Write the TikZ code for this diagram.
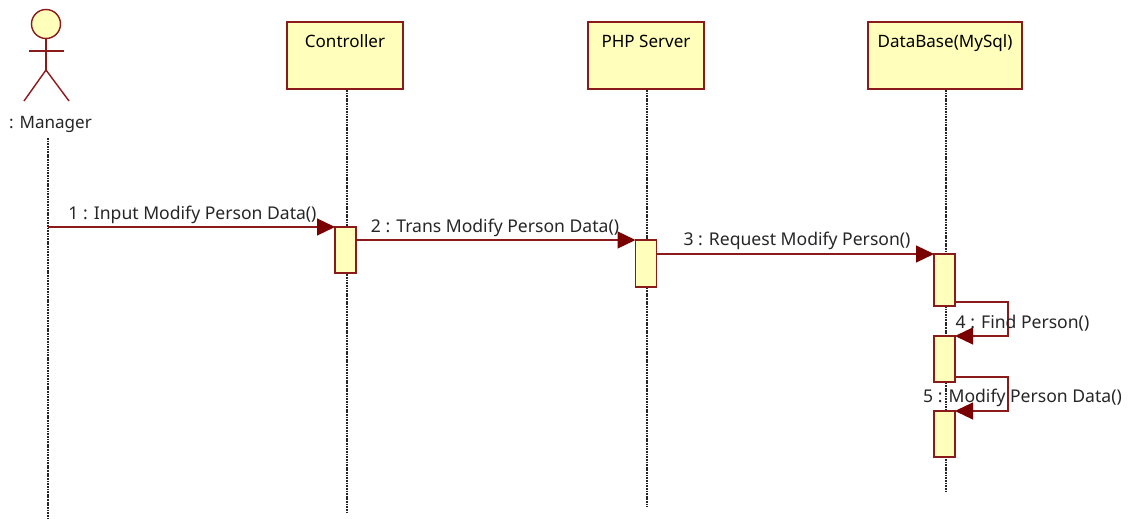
\documentclass[tikz,border=0pt]{standalone}
\usepackage{fontspec}
\setmainfont{Noto Sans}
\usetikzlibrary{arrows.meta}
\definecolor{umlline}{HTML}{8B1A1A}
\definecolor{umlhead}{HTML}{7A0000}
\definecolor{umlfill}{HTML}{FFFFBB}
\tikzset{
    objbox/.style={draw=umlline, fill=umlfill, line width=1pt, inner sep=0pt, minimum height=1.34cm, text height=0.52cm, text depth=0.82cm, font=\fontsize{9.7}{11}\selectfont},
    actbox/.style={draw=umlline, fill=umlfill, line width=1pt, inner sep=0pt, outer sep=0pt, minimum width=0.42cm},
    lifeline/.style={dash pattern=on 1pt off 0.5pt, line width=0.9pt, black!85},
    msg/.style={draw=umlline, line width=0.7pt, -{Triangle[length=0.36cm, width=0.34cm, color=umlhead]}},
    msgtext/.style={inner sep=0pt, text=black!85, font=\fontsize{10}{11}\selectfont},
    stick/.style={draw=umlline, line width=0.8pt}
}
\begin{document}
\begin{tikzpicture}
    \useasboundingbox (0, 0) rectangle (22.72, 10.36);
    % objects
    \node[objbox, minimum width=2.32cm] (controller) at (6.9, 9.25) {Controller};
    \node[objbox, minimum width=2.32cm] (phpserver) at (12.92, 9.25) {PHP Server};
    \node[objbox, minimum width=3.08cm] (database) at (18.9, 9.25) {DataBase(MySql)};
    % actor
    \node[stick, circle, fill=umlfill, minimum size=0.58cm, inner sep=0pt] (head) at (0.92, 9.88) {};
    \coordinate (hip) at (0.92, 8.96);
    \coordinate (armleft) at (0.58, 9.34);
    \coordinate (armright) at (1.28, 9.34);
    \coordinate (footleft) at (0.48, 8.34);
    \coordinate (footright) at (1.38, 8.34);
    \draw[stick] (head) to (hip);
    \draw[stick] (armleft) to (armright);
    \draw[stick] (footleft) to (hip) to (footright);
    \node[msgtext, font=\fontsize{9.7}{11}\selectfont] (manager) at (1.01, 7.88) {: Manager};
    % lifelines
    \coordinate (mantop) at (0.96, 7.6);
    \coordinate (manend) at (0.96, 0);
    \coordinate (conend) at (6.94, 0.08);
    \coordinate (phpend) at (12.94, 0.22);
    \coordinate (dbend) at (18.92, 0.54);
    \draw[lifeline] (mantop) to (manend);
    \draw[lifeline] (controller.south -| conend) to (conend);
    \draw[lifeline] (phpserver.south -| phpend) to (phpend);
    \draw[lifeline] (database.south -| dbend) to (dbend);
    % activations
    \node[actbox, minimum height=0.92cm] (acta) at (6.91, 5.36) {};
    \node[actbox, minimum height=0.94cm] (actb) at (12.92, 5.09) {};
    \node[actbox, minimum height=1.04cm] (actc) at (18.89, 4.76) {};
    \node[actbox, minimum height=0.92cm] (actd) at (18.89, 3.18) {};
    \node[actbox, minimum height=0.92cm] (acte) at (18.89, 1.68) {};
    % messages
    \coordinate (turnd) at (20.16, 4.32);
    \coordinate (turne) at (20.16, 2.82);
    \draw[msg] (mantop |- acta.north) to (acta.north west);
    \draw[msg] (acta.east |- actb.north) to (actb.north west);
    \draw[msg] (actb.east |- actc.north) to (actc.north west);
    \draw[msg] (actc.east |- turnd) to (turnd) to (turnd |- actd.north) to (actd.north east);
    \draw[msg] (actd.east |- turne) to (turne) to (turne |- acte.north) to (acte.north east);
    \node[msgtext] (msga) at (3.85, 6.07) {1 : Input Modify Person Data()};
    \node[msgtext] (msgb) at (9.9, 5.81) {2 : Trans Modify Person Data()};
    \node[msgtext] (msgc) at (15.94, 5.54) {3 : Request Modify Person()};
    \node[msgtext] (msgd) at (20.45, 3.9) {4 : Find Person()};
    \node[msgtext] (msge) at (20.45, 2.4) {5 : Modify Person Data()};
\end{tikzpicture}
\end{document}
